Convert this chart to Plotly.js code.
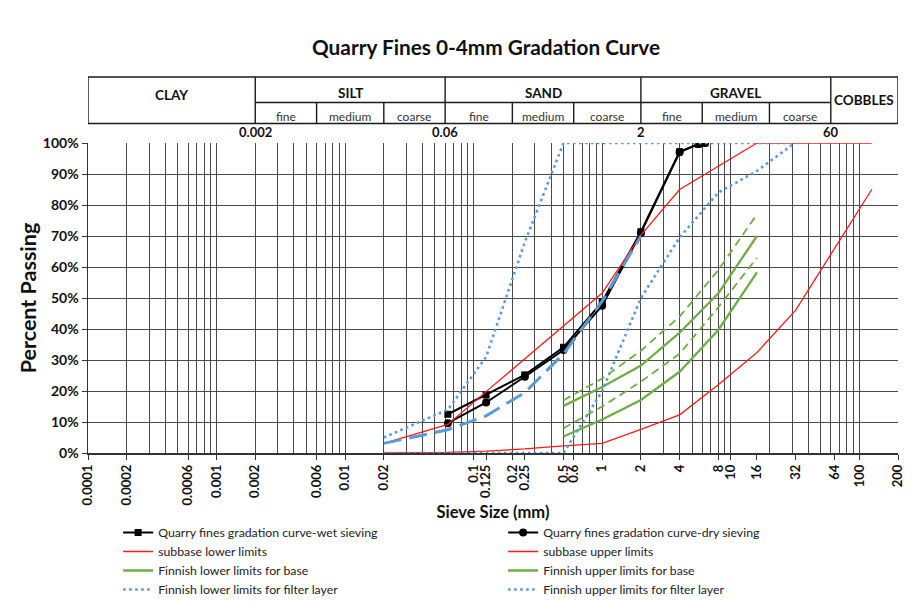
<!DOCTYPE html>
<html>
<head>
<meta charset="utf-8">
<script src="https://cdn.plot.ly/plotly-3.0.1.min.js"></script>
<style>html,body{margin:0;padding:0;background:#fff}#chart{width:912px;height:603px}</style>
</head>
<body>
<div id="chart"></div>
<script>
// ---- data (sieve sizes in mm, percent passing) ----
const sieveQuarry = [0.063, 0.125, 0.25, 0.5, 1, 2, 4, 5.6, 6.3];
const passWet = [12.5, 18.7, 25.2, 34.1, 48.8, 71.4, 97.2, 99.6, 100];
const passDry = [9.6, 16.3, 24.6, 33.2, 47.5, 71.0, 97.0, 99.7, 100];

const sieveSubbase = [0.02, 0.063, 0.125, 0.25, 0.5, 1, 2, 4, 8, 16, 32, 64, 125];
const subbaseLower = [0, 0.2, 0.6, 1.3, 2.3, 3.1, 7.6, 12.3, 22, 32.4, 46.1, 66, 85];
const subbaseUpper = [3.1, 9.2, 19.8, 30.4, 41, 51.6, 70.3, 85, 92.5, 100, 100, 100, 100];

const sieveBase = [0.5, 1, 2, 4, 8, 16];
const finBaseLower = [5.3, 10.8, 17.1, 26.2, 39.7, 58.3];
const finBaseUpper = [15.2, 21.3, 28.2, 38.8, 51.5, 70];
const euBaseLower = [8, 15, 23, 32, 47, 63];
const euBaseUpper = [17, 24, 33, 44, 59, 77];

const sieveFilter = [0.02, 0.063, 0.125, 0.25, 0.5, 1, 2, 4, 8, 16, 31.5];
const finFilterLower = [0, 0, 0, 0, 0, 20, 50, 69.5, 84, 91, 100];
const finFilterUpper = [5, 14, 31, 68, 100, 100, 100, 100, 100, 100, 100];

const sieveC = [0.02, 0.063, 0.125, 0.25, 0.5, 1, 2];
const cLimits = [3.1, 7.5, 12, 19.5, 32, 49, 70];

// axis tick labels
const xLabelVals = [0.0001, 0.0002, 0.0006, 0.001, 0.002, 0.006, 0.01, 0.02, 0.1, 0.125, 0.2, 0.25, 0.5, 0.6, 1, 2, 4, 8, 10, 16, 32, 64, 100, 200];
const xLabelText = ['0.0001', '0.0002', '0.0006', '0.001', '0.002', '0.006', '0.01', '0.02', '0.1', '0.125', '0.2', '0.25', '0.5', '0.6', '1', '2', '4', '8', '10', '16', '32', '64', '100', '200'];
const yTickVals = [0, 10, 20, 30, 40, 50, 60, 70, 80, 90, 100];
const yTickText = ['0%', '10%', '20%', '30%', '40%', '50%', '60%', '70%', '80%', '90%', '100%'];

// soil classification table
const classBounds = [0.0001, 0.002, 0.06, 2, 60, 200];
const classNames = ['CLAY', 'SILT', 'SAND', 'GRAVEL', 'COBBLES'];
const subClassNames = ['fine', 'medium', 'coarse'];
const subBounds = [[0.002, 0.006, 0.02, 0.06], [0.06, 0.2, 0.6, 2], [2, 6, 20, 60]];
const boundaryVals = [0.002, 0.06, 2, 60];
const boundaryText = ['0.002', '0.06', '2', '60'];

// ---- styling ----
const FONT = 'Lato, "Open Sans", "DejaVu Sans", sans-serif';
const RED = '#ff1a1a', GREEN = '#6fae45', BLUE = '#5b9bd5';
const GRID = '#4a4a4a';

// log-decade grid positions (1..9 x 10^k)
const gridVals = [];
for (let k = -4; k <= 2; k++) for (let m = 1; m <= 9; m++) {
  const v = m * Math.pow(10, k);
  if (v <= 200.0001) gridVals.push(v);
}

const traces = [
  {x: sieveQuarry, y: passWet, name: 'Quarry fines gradation curve-wet sieving', mode: 'lines+markers',
   line: {color: '#000', width: 2}, marker: {symbol: 'square', size: 7, color: '#000'}},
  {x: sieveQuarry, y: passDry, name: 'Quarry fines gradation curve-dry sieving', mode: 'lines+markers',
   line: {color: '#000', width: 2}, marker: {symbol: 'circle', size: 8, color: '#000'}},
  {x: sieveSubbase, y: subbaseLower, name: 'subbase lower limits', mode: 'lines', line: {color: RED, width: 1.3}},
  {x: sieveSubbase, y: subbaseUpper, name: 'subbase upper limits', mode: 'lines', line: {color: RED, width: 1.3}},
  {x: sieveBase, y: finBaseLower, name: 'Finnish lower limits for base', mode: 'lines', line: {color: GREEN, width: 2.3}},
  {x: sieveBase, y: finBaseUpper, name: 'Finnish upper limits for base', mode: 'lines', line: {color: GREEN, width: 2.3}},
  {x: sieveFilter, y: finFilterLower, name: 'Finnish lower limits for filter layer', mode: 'lines', line: {color: BLUE, width: 2.6, dash: '2.6px,3.4px'}},
  {x: sieveFilter, y: finFilterUpper, name: 'Finnish upper limits for filter layer', mode: 'lines', line: {color: BLUE, width: 2.6, dash: '2.6px,3.4px'}},
  {x: sieveC, y: cLimits, name: 'c limits', mode: 'lines', xaxis: 'x2', line: {color: BLUE, width: 3, dash: '18px,8px'}},
  {x: sieveBase, y: euBaseLower, name: 'European lower limit for base', mode: 'lines', line: {color: GREEN, width: 1.8, dash: '8px,5px'}},
  {x: sieveBase, y: euBaseUpper, name: 'European upper limit for base', mode: 'lines', line: {color: GREEN, width: 1.8, dash: '8px,5px'}}
];

// plot area: top 143px, bottom 453px -> paper units per pixel
const PLOT_TOP = 143, PLOT_BOTTOM = 453, PLOT_H = PLOT_BOTTOM - PLOT_TOP;
const py = px => (PLOT_BOTTOM - px) / PLOT_H;
const TABLE_TOP = py(77), TABLE_MID = py(102.5), TABLE_BOT = py(123.5);

const shapes = [];
const annotations = [];
const LINE = {color: '#1a1a1a', width: 1.4};
shapes.push({type: 'rect', xref: 'x', yref: 'paper', x0: classBounds[0], x1: classBounds[classBounds.length - 1], y0: TABLE_BOT, y1: TABLE_TOP, line: LINE});
shapes.push({type: 'line', xref: 'x', yref: 'paper', x0: classBounds[1], x1: classBounds[4], y0: TABLE_MID, y1: TABLE_MID, line: LINE});
for (let i = 1; i < classBounds.length - 1; i++) {
  shapes.push({type: 'line', xref: 'x', yref: 'paper', x0: classBounds[i], x1: classBounds[i], y0: TABLE_BOT, y1: TABLE_TOP, line: LINE});
}
subBounds.forEach(b => {
  for (let j = 1; j < b.length - 1; j++) {
    shapes.push({type: 'line', xref: 'x', yref: 'paper', x0: b[j], x1: b[j], y0: TABLE_BOT, y1: TABLE_MID, line: LINE});
  }
  for (let j = 0; j < b.length - 1; j++) {
    annotations.push({xref: 'x', yref: 'paper', x: (Math.log10(b[j]) + Math.log10(b[j + 1])) / 2, y: py(117),
      text: subClassNames[j], showarrow: false, yanchor: 'middle', font: {family: FONT, size: 12, color: '#333'}});
  }
});
classNames.forEach((n, i) => {
  const yy = (i === 0) ? py(95) : (i === 4 ? py(100) : py(93));
  annotations.push({xref: 'x', yref: 'paper', x: (Math.log10(classBounds[i]) + Math.log10(classBounds[i + 1])) / 2, y: yy,
    text: n, showarrow: false, yanchor: 'middle', font: {family: FONT, size: 13.5, weight: 'bold', color: '#111'}});
});
boundaryVals.forEach((v, i) => {
  annotations.push({xref: 'x', yref: 'paper', x: Math.log10(v), y: py(132), text: boundaryText[i], showarrow: false,
    yanchor: 'middle', font: {family: FONT, size: 13, weight: 'bold', color: '#111'}});
});

const xr = [-4, Math.log10(200)];
const layout = {
  width: 912, height: 603,
  margin: {l: 88, r: 14, t: 143, b: 150, autoexpand: false},
  paper_bgcolor: '#fff', plot_bgcolor: '#fff',
  font: {family: FONT, color: '#111'},
  title: {text: 'Quarry Fines 0-4mm Gradation Curve', xref: 'container', x: 486 / 912, xanchor: 'center',
          yref: 'container', y: 1 - 48 / 603, yanchor: 'middle', font: {family: FONT, size: 20.8, weight: 'bold', color: '#111'}},
  xaxis: {type: 'log', range: xr, tickmode: 'array', tickvals: gridVals, showticklabels: false, ticks: '',
          showgrid: true, gridcolor: GRID, gridwidth: 1, zeroline: false, showline: false, fixedrange: true},
  xaxis2: {type: 'log', range: xr, overlaying: 'x', anchor: 'y', side: 'bottom', tickmode: 'array',
           tickvals: xLabelVals, ticktext: xLabelText, tickangle: -90, ticks: 'outside', ticklen: 5, tickcolor: '#333',
           showline: true, linecolor: '#333', linewidth: 1.5, showgrid: false, zeroline: false, fixedrange: true,
           tickfont: {family: FONT, size: 13, weight: 'bold', color: '#111'},
           title: {text: 'Sieve Size (mm)', standoff: 2, font: {family: FONT, size: 16.5, weight: 'bold', color: '#111'}}},
  yaxis: {range: [0, 100], tickmode: 'array', tickvals: yTickVals, ticktext: yTickText, ticks: 'outside', ticklen: 5,
          tickcolor: '#333', showline: true, linecolor: '#333', linewidth: 1.5, gridcolor: GRID, gridwidth: 1,
          zeroline: false, fixedrange: true, tickfont: {family: FONT, size: 14, weight: 'bold', color: '#111'},
          title: {text: 'Percent Passing', standoff: 0, font: {family: FONT, size: 21.5, weight: 'bold', color: '#111'}}},
  showlegend: true,
  legend: {orientation: 'h', x: 0.0372, xanchor: 'left', y: py(518), yanchor: 'top', entrywidth: 340, entrywidthmode: 'pixels',
           traceorder: 'normal', itemwidth: 30, font: {family: FONT, size: 12.3, color: '#222'}, bgcolor: 'rgba(0,0,0,0)'},
  shapes: shapes,
  annotations: annotations
};

Plotly.newPlot('chart', traces, layout, {displayModeBar: false, staticPlot: true});
</script>
</body>
</html>
